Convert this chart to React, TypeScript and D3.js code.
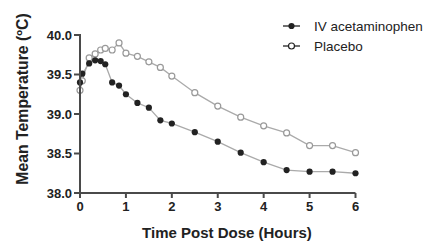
import React from "react"
import { scaleLinear, line } from "d3"

// hours after dose
const times = [0, 0.05, 0.2, 0.33, 0.45, 0.55, 0.7, 0.85, 1, 1.25, 1.5, 1.75, 2, 2.5, 3, 3.5, 4, 4.5, 5, 5.5, 6]
const acetaminophen = [39.4, 39.51, 39.64, 39.68, 39.67, 39.63, 39.4, 39.36, 39.25, 39.14, 39.08, 38.92, 38.88, 38.77, 38.65, 38.51, 38.39, 38.29, 38.27, 38.27, 38.25]
const placebo = [39.3, 39.42, 39.71, 39.76, 39.81, 39.83, 39.81, 39.9, 39.77, 39.73, 39.66, 39.59, 39.48, 39.27, 39.1, 38.96, 38.85, 38.76, 38.6, 38.6, 38.51]
const yTicks = [38.0, 38.5, 39.0, 39.5, 40.0]
const xTicks = [0, 1, 2, 3, 4, 5, 6]
const seriesNames = ["IV acetaminophen", "Placebo"]

const font = "Arial, 'Liberation Sans', sans-serif"

export default function App() {
  const x = scaleLinear().domain([0, 6]).range([80, 355.5])
  const y = scaleLinear().domain([38, 40]).range([193, 35])

  const mk = (vals: number[]) =>
    line<number>()
      .x((_, i) => x(times[i]))
      .y((d) => y(d))(vals) || ""

  const axisColor = "#4a4a4a"

  return (
    <svg width={437} height={242} style={{ position: "absolute", left: 0, top: 0, background: "#fff" }}>
      {/* series lines */}
      <path d={mk(placebo)} fill="none" stroke="#aaa" strokeWidth={1.3} />
      <path d={mk(acetaminophen)} fill="none" stroke="#aaa" strokeWidth={1.3} />
      {placebo.map((v, i) => (
        <circle key={"p" + i} cx={x(times[i])} cy={y(v)} r={3} fill="#fff" stroke="#999" strokeWidth={1.2} />
      ))}
      {acetaminophen.map((v, i) => (
        <circle key={"a" + i} cx={x(times[i])} cy={y(v)} r={3.1} fill="#222" />
      ))}

      {/* axes */}
      <line x1={x(0)} x2={x(0)} y1={y(40) - 1} y2={y(38) + 1} stroke={axisColor} strokeWidth={2} />
      <line x1={x(0) - 1} x2={x(6)} y1={y(38)} y2={y(38)} stroke={axisColor} strokeWidth={2} />
      {yTicks.map((t) => (
        <g key={t}>
          <line x1={x(0) - 6} x2={x(0)} y1={y(t)} y2={y(t)} stroke={axisColor} strokeWidth={2} />
          <text x={x(0) - 8} y={y(t) + 4.5} textAnchor="end" fontFamily={font} fontWeight="bold" fontSize={13} fill="#222">
            {t.toFixed(1)}
          </text>
        </g>
      ))}
      {xTicks.map((t) => (
        <g key={t}>
          <line x1={x(t)} x2={x(t)} y1={y(38)} y2={y(38) + 5} stroke={axisColor} strokeWidth={2} />
          <text x={x(t)} y={y(38) + 18} textAnchor="middle" fontFamily={font} fontWeight="bold" fontSize={13} fill="#222">
            {t}
          </text>
        </g>
      ))}

      <text x={227} y={238} textAnchor="middle" fontFamily={font} fontWeight="bold" fontSize={15} fill="#222">
        Time Post Dose (Hours)
      </text>
      <text transform="translate(28,99) rotate(-90)" textAnchor="middle" fontFamily={font} fontWeight="bold" fontSize={15.8} fill="#222">
        Mean Temperature (ºC)
      </text>

      {/* legend */}
      {seriesNames.map((name, i) => {
        const ly = 26 + i * 20
        return (
          <g key={name}>
            <line x1={283} x2={300} y1={ly} y2={ly} stroke="#222" strokeWidth={1.3} />
            {i === 0 ? (
              <circle cx={291.5} cy={ly} r={3.1} fill="#222" />
            ) : (
              <circle cx={291.5} cy={ly} r={3} fill="#fff" stroke="#222" strokeWidth={1.2} />
            )}
            <text x={314} y={ly + 5} fontFamily={font} fontSize={13.5} fill="#222">
              {name}
            </text>
          </g>
        )
      })}
    </svg>
  )
}
